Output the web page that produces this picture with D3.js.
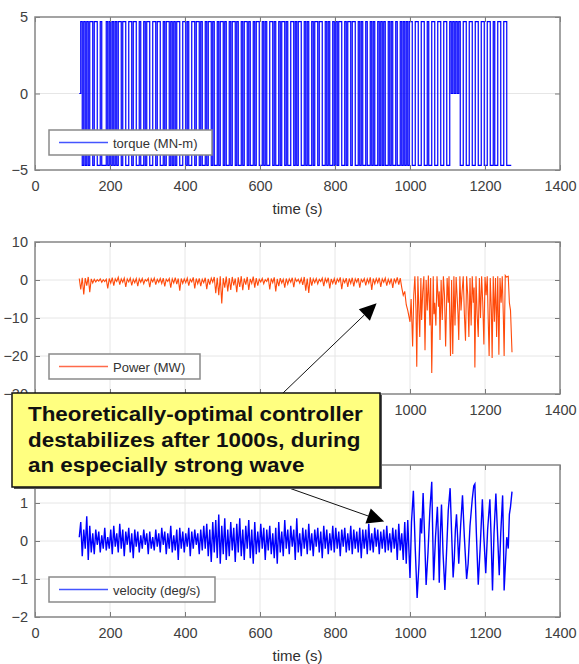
<!DOCTYPE html>
<html>
<head>
<meta charset="utf-8">
<script src="https://cdn.jsdelivr.net/npm/d3@7"></script>
<style>
  body { margin: 0; background: #fff; }
  svg { display: block; font-family: "Liberation Sans", Arial, sans-serif; }
</style>
</head>
<body>
<svg id="chart" width="579" height="664"></svg>
<script>
// ---- data ----
const xTicks = [0, 200, 400, 600, 800, 1000, 1200, 1400];

// torque: level per 4 s bin, starting at 118 s (1 = +amp, -1 = -amp)
const torqueStart = 118, torqueStep = 4, torqueEnd = 1270, torqueAmp = 4.7;
const torqueLevels = [
  0,1,-1,1,-1,1,-1,1,1,-1,  1,1,-1,-1,1,-1,-1,-1,1,-1,  1,-1,1,-1,1,-1,1,1,-1,1,
  1,-1,-1,1,1,-1,1,1,-1,-1,  1,-1,-1,1,-1,1,1,-1,-1,1,  1,-1,1,1,-1,-1,1,-1,1,1,
  -1,1,-1,1,-1,1,1,-1,-1,1,  1,-1,1,-1,-1,1,1,-1,1,1,  -1,1,-1,-1,1,-1,1,1,-1,1,
  -1,-1,1,-1,1,1,-1,1,-1,-1,  1,-1,1,1,-1,1,-1,-1,1,-1,  1,1,-1,1,-1,-1,1,-1,1,1,
  -1,-1,1,-1,1,-1,-1,1,1,-1,  1,-1,-1,1,-1,1,1,-1,1,-1,  -1,1,1,-1,1,-1,1,1,-1,-1,
  1,-1,1,-1,-1,1,-1,1,1,-1,  1,1,-1,-1,1,-1,1,-1,-1,1,  -1,1,-1,1,1,-1,-1,1,-1,1,
  1,-1,1,1,-1,-1,1,-1,1,-1,  -1,1,-1,-1,1,-1,1,-1,-1,1,  -1,1,-1,1,-1,-1,1,-1,1,-1,
  -1,1,-1,-1,1,-1,1,-1,1,-1,
  1,1,-1,-1,1,1,-1,-1,1,1,  -1,-1,1,-1,-1,1,1,-1,-1,1,  1,-1,-1,1,1,-1,-1,1,0,1,
  0,1,0,1,-1,-1,1,1,-1,-1,  1,1,-1,-1,1,1,-1,-1,1,1,  -1,-1,1,1,-1,-1,1,-1,-1,1,
  1,-1,-1,1,1,-1,-1
];

// power (MW): 4 s samples from 118 s, then hand-read points after 1000 s
const noiseStart = 118, noiseStep = 4;
const powerNoise = [
  0.4,-2.5,0.6,-3.8,0.5,-1.5,0.8,-3.2,0.3,-0.8,  0.2,-0.5,0.1,-0.3,0.3,-0.6,0.1,-0.4,0.2,-2.2,
  0.4,-0.8,0.6,-1.5,0.3,-0.4,0.7,-1.2,0.3,-0.6,  0.5,-1.8,0.3,-0.5,0.5,-1.4,0.2,-0.7,0.4,-1.6,
  0.3,-0.6,0.4,-1.0,0.1,-0.3,0.4,-1.9,0.3,-0.5,  0.5,-1.2,0.2,-0.6,0.4,-0.9,0.5,-1.7,0.2,-0.4,
  0.4,-2.0,0.3,-0.8,0.6,-1.1,0.4,-2.8,0.4,-0.9,  0.3,-0.7,0.5,-1.5,0.2,-0.5,0.7,-2.2,0.4,-1.0,
  0.4,-1.6,0.2,-0.7,0.6,-2.4,0.3,-1.2,0.5,-0.6,  0.8,-3.5,0.6,-4.0,1.0,-6.2,0.5,-2.0,0.9,-3.0,
  0.5,-2.6,0.8,-1.4,0.4,-3.2,0.7,-1.8,1.0,-2.7,  0.4,-1.2,0.8,-2.6,0.3,-0.9,0.9,-2.0,0.5,-1.5,
  0.2,-0.5,0.4,-1.0,0.1,-0.4,0.6,-2.5,0.4,-0.7,  0.7,-3.0,0.3,-1.6,0.5,-0.8,0.2,-2.0,0.4,-1.1,
  0.3,-0.6,0.6,-1.9,0.4,-0.4,0.2,-0.8,0.4,-1.3,  0.8,-2.8,0.4,-3.4,0.7,-1.5,0.3,-0.7,0.4,-1.0,
  0.2,-0.4,0.5,-1.6,0.4,-0.6,0.6,-2.2,0.3,-0.9,  0.4,-1.2,0.3,-0.5,0.7,-2.4,0.2,-0.7,0.5,-1.8,
  0.4,-0.9,0.6,-1.7,0.3,-0.6,0.5,-2.0,0.2,-0.5,  0.4,-1.4,0.3,-0.8,0.7,-2.6,0.4,-1.0,0.4,-0.7,
  0.6,-1.8,0.3,-0.6,0.5,-1.5,0.2,-0.9,0.4,-2.1,  0.4,-0.7,0.7,-1.2,0.5,-2.0,-4.0,-3.0,-6.5,-8.0
];
const powerWaveT = [1000,1003,1007,1010,1013,1016,1018,1021,1024,1026,1029,1031,1034,1037,1040,1043,1046,1049,1051,1053,1055,1058,
  1062,1064,1066,1069,1072,1076,1078,1080,1083,1086,1089,1092,1095,1099,1102,1104,1108,1111,1114,1117,1120,1123,
  1126,1128,1130,1133,1136,1139,1142,1145,1148,1151,1154,1157,1160,1163,1166,1169,1171,1173,1176,1179,1182,1185,
  1188,1191,1194,1197,1200,1203,1206,1208,1211,1214,1217,1219,1222,1225,1228,1231,1234,1237,1240,1243,1246,
  1249,1251,1254,1257,1262,1265,1268,1272];
const powerWaveV = [-11,-5,-17.5,-4,1,-8,-22.8,1,-9,-15,0.5,-10.5,-3,1,-18.5,0,-8,1.2,-5,-12,0.5,-24.5,
  1,-9,-6,-12,1,-7,-3,-15.8,0,-10.5,1,-4,-17.5,0.5,-6,1,-20,0,-19.5,1,-12,0.8,
  -5,-9,-15.8,1,-8,-3,1,-9,-16,1,-4,-15,0.5,-12,1,-6,-2,-23,1,-9,-15,0.5,
  -10,1,-6,-17,0.8,-4,1,-8,-20,0.5,-8,-20.5,1,-11,0.5,-15,1,-19.7,0.5,-6,1,
  -10,-20,1.2,0.8,1,-6,-8,-19];

// velocity (deg/s)
const velNoise = [
  0.1,0.5,-0.4,0.3,-0.2,0.65,-0.5,0.4,-0.3,0.2,  -0.35,0.3,-0.1,0.25,-0.3,0.15,-0.2,0.35,-0.25,0.1,
  -0.2,0.3,-0.35,0.4,-0.15,0.2,-0.3,0.45,-0.2,0.3,  -0.4,0.25,-0.1,0.35,-0.3,0.2,-0.45,0.3,-0.15,0.25,
  -0.3,0.15,-0.2,0.3,-0.1,0.2,-0.35,0.25,-0.2,0.1,  -0.25,0.3,-0.15,0.2,-0.3,0.35,-0.1,0.25,-0.35,0.2,
  -0.2,0.4,-0.3,0.15,-0.25,0.3,-0.5,0.35,-0.2,0.25,  -0.3,0.2,-0.15,0.35,-0.4,0.25,-0.2,0.3,-0.1,0.2,
  -0.35,0.3,-0.25,0.4,-0.2,0.45,-0.4,0.3,-0.55,0.5,  -0.3,0.55,-0.45,0.7,-0.6,0.4,-0.35,0.6,-0.5,0.3,
  -0.4,0.5,-0.25,0.35,-0.55,0.45,-0.3,0.6,-0.4,0.3,  -0.5,0.4,-0.2,0.55,-0.45,0.3,-0.6,0.5,-0.35,0.25,
  -0.3,0.45,-0.2,0.35,-0.5,0.3,-0.25,0.4,-0.35,0.2,  -0.45,0.35,-0.6,0.5,-0.3,0.25,-0.4,0.55,-0.2,0.3,
  -0.35,0.4,-0.15,0.3,-0.5,0.6,-0.3,0.2,-0.4,0.35,  -0.2,0.3,-0.35,0.45,-0.25,0.2,-0.4,0.3,-0.15,0.35,
  -0.3,0.25,-0.45,0.4,-0.2,0.3,-0.35,0.2,-0.25,0.4,  -0.3,0.35,-0.2,0.25,-0.4,0.3,-0.15,0.35,-0.3,0.2,
  -0.25,0.4,-0.35,0.3,-0.2,0.25,-0.3,0.35,-0.45,0.3,  -0.2,0.3,-0.35,0.45,-0.25,0.2,-0.3,0.35,-0.15,0.3,
  -0.35,0.25,-0.2,0.3,-0.3,0.4,-0.25,0.2,-0.3,0.35,  -0.2,0.3,-0.5,0.45,-0.25,0.2,-0.5,0.5,-0.6,0.55
];
const velWaveT = [1000,1004,1009,1014,1019,1024,1028,1031,1035,1039,1043,1048,1053,1058,1060,1063,1068,1073,1075,1078,
  1081,1084,1088,1093,1097,1102,1107,1111,1115,1118,1121,1124,1127,1130,1135,1140,1145,1151,1155,1160,
  1166,1170,1173,1177,1182,1187,1193,1197,1202,1207,1213,1216,1220,1224,1229,1233,1238,1242,1247,1249,
  1251,1255,1258,1262,1265,1268,1272];
const velWaveV = [-0.97,0.5,1.32,-0.2,-1.5,-0.6,0.6,0.2,1.26,0.1,-1.16,-0.3,0.8,1.56,0.5,-1.03,0.1,0.9,0.3,-1.1,
  0.2,0.96,-0.3,-1.29,-0.4,0.8,1.39,0.2,-0.96,-0.5,0.3,0.7,0.1,-0.6,0.4,1.2,0.1,-1.0,-0.6,0.4,
  1.1,1.45,1.5,0.2,-1.15,-0.2,1.1,0.1,-0.85,0.3,1.1,0.2,-1.3,0.2,1.25,0.3,-0.9,0.2,1.2,0.2,
  -1.3,-0.5,0.1,-0.2,0.7,0.9,1.3];

const annotLines = ["Theoretically-optimal controller", "destabilizes after 1000s, during", "an especially strong wave"];

// ---- build point lists ----
let torqueData = torqueLevels.map((l, i) => [torqueStart + i * torqueStep, l * torqueAmp]);
torqueData.push([torqueEnd, torqueLevels[torqueLevels.length - 1] * torqueAmp]);

let powerData = powerNoise.map((v, i) => [noiseStart + i * noiseStep, v])
  .concat(powerWaveT.map((t, i) => [t, powerWaveV[i]]));
let velData = velNoise.map((v, i) => [noiseStart + i * noiseStep, v])
  .concat(velWaveT.map((t, i) => [t, velWaveV[i]]));

const svg = d3.select("#chart");
const left = 35, right = 560;
const x = d3.scaleLinear().domain([0, 1400]).range([left, right]);

function panel(o) {
  const y = d3.scaleLinear().domain(o.yDomain).range([o.bottom, o.top]);
  const g = svg.append("g");

  // grid
  g.selectAll(".vg").data(xTicks.slice(1, -1)).enter().append("line")
    .attr("x1", d => x(d)).attr("x2", d => x(d))
    .attr("y1", o.top).attr("y2", o.bottom)
    .attr("stroke", "#e6e6e6").attr("stroke-width", 1);
  g.selectAll(".hg").data(o.yTicks.filter(d => d > o.yDomain[0] && d < o.yDomain[1])).enter().append("line")
    .attr("x1", left).attr("x2", right)
    .attr("y1", d => y(d)).attr("y2", d => y(d))
    .attr("stroke", "#e6e6e6").attr("stroke-width", 1);

  // data
  g.append("path")
    .datum(o.data)
    .attr("fill", "none")
    .attr("stroke", o.color)
    .attr("stroke-width", o.width)
    .attr("d", d3.line().x(d => x(d[0])).y(d => y(d[1])).curve(o.curve || d3.curveLinear));

  // axes (ticks point inward like matlab)
  g.append("g").attr("transform", `translate(0,${o.bottom})`)
    .call(d3.axisBottom(x).tickValues(xTicks).tickSizeInner(-5).tickSizeOuter(0).tickPadding(11)
      .tickFormat(d3.format("d")));
  g.append("g").attr("transform", `translate(${left},0)`)
    .call(d3.axisLeft(y).tickValues(o.yTicks).tickSizeInner(-5).tickSizeOuter(0).tickPadding(7)
      .tickFormat(d3.format("d")));
  g.append("g").attr("transform", `translate(0,${o.top})`)
    .call(d3.axisTop(x).tickValues(xTicks).tickSizeInner(-5).tickSizeOuter(0).tickFormat(""));
  g.append("g").attr("transform", `translate(${right},0)`)
    .call(d3.axisRight(y).tickValues(o.yTicks).tickSizeInner(-5).tickSizeOuter(0).tickFormat(""));
  g.selectAll(".domain").remove();
  g.selectAll(".tick line").attr("stroke", "#7a7a7a");
  g.selectAll(".tick text").attr("fill", "#404040").style("font-size", "14.5px");

  g.append("rect")
    .attr("x", left).attr("y", o.top)
    .attr("width", right - left).attr("height", o.bottom - o.top)
    .attr("fill", "none").attr("stroke", "#858585").attr("stroke-width", 1.5);

  // x label
  g.append("text")
    .attr("x", (left + right) / 2).attr("y", o.bottom + 44)
    .attr("text-anchor", "middle").attr("fill", "#303030")
    .style("font-size", "15px")
    .text("time (s)");

  // legend
  const lg = g.append("g").attr("transform", `translate(49,${o.legendY})`);
  lg.append("rect").attr("width", o.legendW).attr("height", 25)
    .attr("fill", "#fff").attr("stroke", "#8a8a8a").attr("stroke-width", 1.5);
  lg.append("line").attr("x1", 10).attr("x2", 59).attr("y1", 12.5).attr("y2", 12.5)
    .attr("stroke", o.legendColor).attr("stroke-width", 1.5);
  lg.append("text").attr("x", 64).attr("y", 17.5)
    .attr("fill", "#333").style("font-size", "13px")
    .text(o.label);

  return y;
}

const y1 = panel({ top: 17, bottom: 170, yDomain: [-5, 5], yTicks: [-5, 0, 5],
  data: torqueData, color: "#0000ff", width: 1.2, curve: d3.curveStepAfter,
  label: "torque (MN-m)", legendY: 130, legendW: 163, legendColor: "#4455ff" });
const y2 = panel({ top: 242, bottom: 394, yDomain: [-30, 10], yTicks: [-30, -20, -10, 0, 10],
  data: powerData, color: "#ff4a0a", width: 1.1,
  label: "Power (MW)", legendY: 354, legendW: 151, legendColor: "#ff6a4a" });
const y3 = panel({ top: 465, bottom: 617, yDomain: [-2, 2], yTicks: [-2, -1, 0, 1],
  data: velData, color: "#0000ff", width: 1.4,
  label: "velocity (deg/s)", legendY: 577, legendW: 166, legendColor: "#4455ff" });

// ---- annotation ----
const box = { x: 12, y: 393, w: 368, h: 94 };
const ann = svg.append("g");

// arrows from the box to the curves
const arrows = [
  { from: [283, box.y], to: [x(911), y2(-6.1)] },
  { from: [289, box.y + box.h + 1], to: [x(931), y3(0.51)] }
];
arrows.forEach(a => {
  const dx = a.to[0] - a.from[0], dy = a.to[1] - a.from[1];
  const len = Math.sqrt(dx * dx + dy * dy);
  const ux = dx / len, uy = dy / len;
  const hl = 17, hw = 8;
  const bx = a.to[0] - ux * hl, by = a.to[1] - uy * hl;
  ann.append("line")
    .attr("x1", a.from[0]).attr("y1", a.from[1])
    .attr("x2", bx).attr("y2", by)
    .attr("stroke", "#111").attr("stroke-width", 1);
  ann.append("path")
    .attr("d", `M${a.to[0]},${a.to[1]} L${bx - uy * hw},${by + ux * hw} L${bx + uy * hw},${by - ux * hw} Z`)
    .attr("fill", "#000");
});

// shadow + box
ann.append("rect")
  .attr("x", box.x + 2).attr("y", box.y + 2)
  .attr("width", box.w).attr("height", box.h)
  .attr("fill", "#555");
ann.append("rect")
  .attr("x", box.x).attr("y", box.y)
  .attr("width", box.w).attr("height", box.h)
  .attr("fill", "#ffff80").attr("stroke", "#111").attr("stroke-width", 1.5);

// text is a bit wider in the reference than Liberation Sans Bold, so stretch it
ann.selectAll(".al").data(annotLines).enter().append("text")
  .attr("x", 28)
  .attr("y", (d, i) => 421 + i * 25.5)
  .attr("fill", "#111")
  .style("font-size", "20px")
  .style("font-weight", "bold")
  .text(d => d)
  .each(function () {
    const w = this.getComputedTextLength();
    d3.select(this).attr("textLength", w * 1.12).attr("lengthAdjust", "spacingAndGlyphs");
  });
</script>
</body>
</html>
